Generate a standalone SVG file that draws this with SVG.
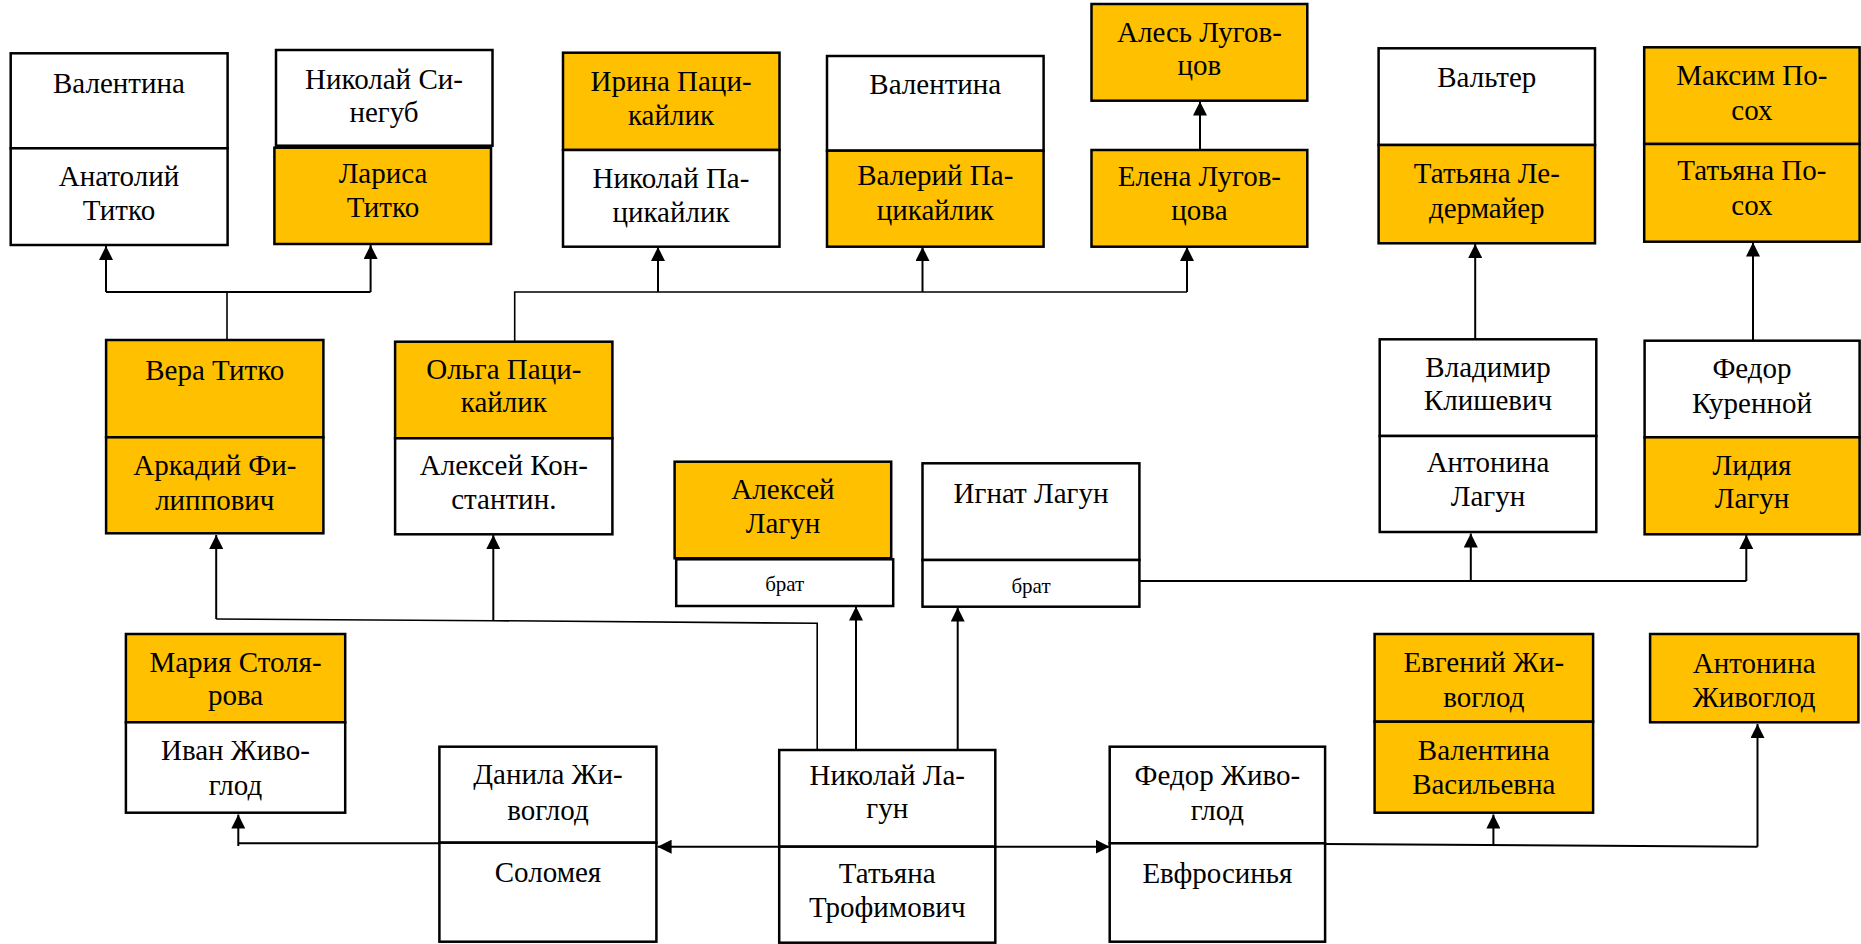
<svg xmlns="http://www.w3.org/2000/svg" width="1861" height="944" viewBox="0 0 1861 944">
<style>
.w{fill:#ffffff;stroke:#000;stroke-width:2.5}
.o{fill:#FFC000;stroke:#000;stroke-width:2.5}
.c{fill:none;stroke:#000;stroke-width:2}
.t{fill:none;stroke:#000;stroke-width:1.6}
</style>
<defs>
<marker id="ah" markerWidth="14" markerHeight="14" refX="14" refY="7" orient="auto" markerUnits="userSpaceOnUse"><path d="M0,0 L14,7 L0,14 z" fill="#000"/></marker>
</defs>
<rect width="1861" height="944" fill="#fff"/>
<g id="connectors">
<polyline class="t" points="227,340 227,292"/>
<polyline class="c" points="106,292 370.6,292"/>
<line class="c" x1="106" y1="292" x2="106" y2="246" marker-end="url(#ah)"/>
<line class="c" x1="370.6" y1="292" x2="370.6" y2="245" marker-end="url(#ah)"/>
<polyline class="t" points="514.7,341.7 514.7,292 1187,292"/>
<line class="c" x1="658" y1="292" x2="658" y2="247" marker-end="url(#ah)"/>
<line class="c" x1="922.5" y1="292" x2="922.5" y2="247" marker-end="url(#ah)"/>
<line class="c" x1="1187" y1="292" x2="1187" y2="247" marker-end="url(#ah)"/>
<line class="c" x1="1200" y1="150" x2="1200" y2="101.5" marker-end="url(#ah)"/>
<line class="c" x1="1475.2" y1="339.3" x2="1475.2" y2="244" marker-end="url(#ah)"/>
<line class="c" x1="1753" y1="340.7" x2="1753" y2="242.5" marker-end="url(#ah)"/>
<polyline class="c" points="1139.4,581 1746.3,581"/>
<line class="c" x1="1470.8" y1="581" x2="1470.8" y2="533.5" marker-end="url(#ah)"/>
<line class="c" x1="1746.3" y1="581" x2="1746.3" y2="535" marker-end="url(#ah)"/>
<polyline class="t" points="817.2,750 817.2,623.3 493.3,620.7 216.2,619"/>
<line class="c" x1="216.2" y1="619" x2="216.2" y2="535" marker-end="url(#ah)"/>
<line class="c" x1="493.3" y1="620.7" x2="493.3" y2="535" marker-end="url(#ah)"/>
<line class="c" x1="856" y1="750" x2="856" y2="606.5" marker-end="url(#ah)"/>
<line class="c" x1="957.7" y1="750" x2="957.7" y2="607.5" marker-end="url(#ah)"/>
<line class="c" x1="779.2" y1="846.7" x2="657.6" y2="846.7" marker-end="url(#ah)"/>
<polyline class="c" points="439.4,843.3 238.3,843.3"/>
<line class="c" x1="238.3" y1="846" x2="238.3" y2="814.5" marker-end="url(#ah)"/>
<line class="c" x1="995.3" y1="846.7" x2="1109.7" y2="846.7" marker-end="url(#ah)"/>
<polyline class="c" points="1325.1,844 1757.5,846.7"/>
<line class="c" x1="1493.4" y1="846" x2="1493.4" y2="814.5" marker-end="url(#ah)"/>
<line class="c" x1="1757.5" y1="846.7" x2="1757.5" y2="724" marker-end="url(#ah)"/>
</g>
<g id="n1">
<rect class="w" x="10.7" y="53.3" width="216.9" height="95"/>
<rect class="w" x="10.7" y="148.3" width="216.9" height="96.7"/>
<text x="119" y="93" font-family="Liberation Serif" font-size="29" text-anchor="middle">Валентина</text>
<text x="119" y="186" font-family="Liberation Serif" font-size="29" text-anchor="middle">Анатолий</text>
<text x="119" y="220" font-family="Liberation Serif" font-size="29" text-anchor="middle">Титко</text>
</g>
<g id="n2">
<rect class="w" x="276" y="50" width="216.5" height="95.7"/>
<rect class="o" x="274.4" y="147.7" width="216.6" height="96.3"/>
<text x="384" y="88.5" font-family="Liberation Serif" font-size="29" text-anchor="middle">Николай Си-</text>
<text x="384" y="122" font-family="Liberation Serif" font-size="29" text-anchor="middle">негуб</text>
<text x="383" y="183" font-family="Liberation Serif" font-size="29" text-anchor="middle">Лариса</text>
<text x="383" y="217" font-family="Liberation Serif" font-size="29" text-anchor="middle">Титко</text>
</g>
<g id="n3">
<rect class="o" x="563" y="52.7" width="216.5" height="97.3"/>
<rect class="w" x="563" y="150" width="216.5" height="96.7"/>
<text x="671" y="91" font-family="Liberation Serif" font-size="29" text-anchor="middle">Ирина Паци-</text>
<text x="671" y="125" font-family="Liberation Serif" font-size="29" text-anchor="middle">кайлик</text>
<text x="671" y="188" font-family="Liberation Serif" font-size="29" text-anchor="middle">Николай Па-</text>
<text x="671" y="222" font-family="Liberation Serif" font-size="29" text-anchor="middle">цикайлик</text>
</g>
<g id="n4">
<rect class="w" x="827" y="56" width="216.6" height="94.7"/>
<rect class="o" x="827" y="150.7" width="216.6" height="96"/>
<text x="935.3" y="94" font-family="Liberation Serif" font-size="29" text-anchor="middle">Валентина</text>
<text x="935.3" y="185" font-family="Liberation Serif" font-size="29" text-anchor="middle">Валерий Па-</text>
<text x="935.3" y="220" font-family="Liberation Serif" font-size="29" text-anchor="middle">цикайлик</text>
</g>
<g id="n5">
<rect class="o" x="1091.5" y="4" width="215.8" height="96.7"/>
<text x="1199.4" y="41.5" font-family="Liberation Serif" font-size="29" text-anchor="middle">Алесь Лугов-</text>
<text x="1199.4" y="75" font-family="Liberation Serif" font-size="29" text-anchor="middle">цов</text>
</g>
<g id="n6">
<rect class="o" x="1091.5" y="150" width="215.8" height="96.7"/>
<text x="1199.4" y="186" font-family="Liberation Serif" font-size="29" text-anchor="middle">Елена Лугов-</text>
<text x="1199.4" y="220" font-family="Liberation Serif" font-size="29" text-anchor="middle">цова</text>
</g>
<g id="n7">
<rect class="w" x="1378.6" y="48.3" width="216.4" height="96.7"/>
<rect class="o" x="1378.6" y="145" width="216.4" height="98.3"/>
<text x="1486.8" y="87" font-family="Liberation Serif" font-size="29" text-anchor="middle">Вальтер</text>
<text x="1486.8" y="183" font-family="Liberation Serif" font-size="29" text-anchor="middle">Татьяна Ле-</text>
<text x="1486.8" y="218" font-family="Liberation Serif" font-size="29" text-anchor="middle">дермайер</text>
</g>
<g id="n8">
<rect class="o" x="1644.2" y="47.3" width="215.4" height="96.7"/>
<rect class="o" x="1644.2" y="144" width="215.4" height="97.7"/>
<text x="1751.9" y="85" font-family="Liberation Serif" font-size="29" text-anchor="middle">Максим По-</text>
<text x="1751.9" y="120" font-family="Liberation Serif" font-size="29" text-anchor="middle">сох</text>
<text x="1751.9" y="180" font-family="Liberation Serif" font-size="29" text-anchor="middle">Татьяна По-</text>
<text x="1751.9" y="215" font-family="Liberation Serif" font-size="29" text-anchor="middle">сох</text>
</g>
<g id="n9">
<rect class="o" x="106.1" y="340" width="217.3" height="97.3"/>
<rect class="o" x="106.1" y="437.3" width="217.3" height="96"/>
<text x="214.8" y="380" font-family="Liberation Serif" font-size="29" text-anchor="middle">Вера Титко</text>
<text x="214.8" y="475" font-family="Liberation Serif" font-size="29" text-anchor="middle">Аркадий Фи-</text>
<text x="214.8" y="510" font-family="Liberation Serif" font-size="29" text-anchor="middle">липпович</text>
</g>
<g id="n10">
<rect class="o" x="395.1" y="341.7" width="217.3" height="96.6"/>
<rect class="w" x="395.1" y="438.3" width="217.3" height="96"/>
<text x="503.8" y="379" font-family="Liberation Serif" font-size="29" text-anchor="middle">Ольга Паци-</text>
<text x="503.8" y="412" font-family="Liberation Serif" font-size="29" text-anchor="middle">кайлик</text>
<text x="503.8" y="475" font-family="Liberation Serif" font-size="29" text-anchor="middle">Алексей Кон-</text>
<text x="503.8" y="509" font-family="Liberation Serif" font-size="29" text-anchor="middle">стантин.</text>
</g>
<g id="n11">
<rect class="o" x="674.6" y="461.7" width="216.6" height="96.6"/>
<rect class="w" x="676.2" y="559.3" width="217" height="46.7"/>
<text x="783" y="499" font-family="Liberation Serif" font-size="29" text-anchor="middle">Алексей</text>
<text x="783" y="533" font-family="Liberation Serif" font-size="29" text-anchor="middle">Лагун</text>
<text x="784.7" y="591" font-family="Liberation Serif" font-size="21" text-anchor="middle">брат</text>
</g>
<g id="n12">
<rect class="w" x="922.5" y="463.3" width="216.9" height="96.7"/>
<rect class="w" x="922.5" y="560" width="216.9" height="46.7"/>
<text x="1031" y="503" font-family="Liberation Serif" font-size="29" text-anchor="middle">Игнат Лагун</text>
<text x="1031" y="593" font-family="Liberation Serif" font-size="21" text-anchor="middle">брат</text>
</g>
<g id="n13">
<rect class="w" x="1379.7" y="339.3" width="216.6" height="96.7"/>
<rect class="w" x="1379.7" y="436" width="216.6" height="96"/>
<text x="1488" y="377" font-family="Liberation Serif" font-size="29" text-anchor="middle">Владимир</text>
<text x="1488" y="410" font-family="Liberation Serif" font-size="29" text-anchor="middle">Клишевич</text>
<text x="1488" y="471.5" font-family="Liberation Serif" font-size="29" text-anchor="middle">Антонина</text>
<text x="1488" y="506" font-family="Liberation Serif" font-size="29" text-anchor="middle">Лагун</text>
</g>
<g id="n14">
<rect class="w" x="1644.6" y="340.7" width="215" height="96.6"/>
<rect class="o" x="1644.6" y="437.3" width="215" height="97"/>
<text x="1752" y="378" font-family="Liberation Serif" font-size="29" text-anchor="middle">Федор</text>
<text x="1752" y="413" font-family="Liberation Serif" font-size="29" text-anchor="middle">Куренной</text>
<text x="1752" y="475" font-family="Liberation Serif" font-size="29" text-anchor="middle">Лидия</text>
<text x="1752" y="508" font-family="Liberation Serif" font-size="29" text-anchor="middle">Лагун</text>
</g>
<g id="n15">
<rect class="o" x="125.9" y="634" width="219.3" height="88.3"/>
<rect class="w" x="125.9" y="722.3" width="219.3" height="90.4"/>
<text x="235.5" y="671.5" font-family="Liberation Serif" font-size="29" text-anchor="middle">Мария Столя-</text>
<text x="235.5" y="705" font-family="Liberation Serif" font-size="29" text-anchor="middle">рова</text>
<text x="235.5" y="760" font-family="Liberation Serif" font-size="29" text-anchor="middle">Иван Живо-</text>
<text x="235.5" y="795" font-family="Liberation Serif" font-size="29" text-anchor="middle">глод</text>
</g>
<g id="n16">
<rect class="w" x="439.4" y="746.7" width="217" height="96"/>
<rect class="w" x="439.4" y="842.7" width="217" height="99"/>
<text x="548" y="784" font-family="Liberation Serif" font-size="29" text-anchor="middle">Данила Жи-</text>
<text x="548" y="820" font-family="Liberation Serif" font-size="29" text-anchor="middle">воглод</text>
<text x="548" y="881.5" font-family="Liberation Serif" font-size="29" text-anchor="middle">Соломея</text>
</g>
<g id="n17">
<rect class="w" x="779.2" y="750" width="216.1" height="96.7"/>
<rect class="w" x="779.2" y="846.7" width="216.1" height="96"/>
<text x="887.2" y="785" font-family="Liberation Serif" font-size="29" text-anchor="middle">Николай Ла-</text>
<text x="887.2" y="818" font-family="Liberation Serif" font-size="29" text-anchor="middle">гун</text>
<text x="887.2" y="883" font-family="Liberation Serif" font-size="29" text-anchor="middle">Татьяна</text>
<text x="887.2" y="917" font-family="Liberation Serif" font-size="29" text-anchor="middle">Трофимович</text>
</g>
<g id="n18">
<rect class="w" x="1109.7" y="746.7" width="215.4" height="96.6"/>
<rect class="w" x="1109.7" y="843.3" width="215.4" height="98.4"/>
<text x="1217.4" y="785" font-family="Liberation Serif" font-size="29" text-anchor="middle">Федор Живо-</text>
<text x="1217.4" y="820" font-family="Liberation Serif" font-size="29" text-anchor="middle">глод</text>
<text x="1217.4" y="883" font-family="Liberation Serif" font-size="29" text-anchor="middle">Евфросинья</text>
</g>
<g id="n19">
<rect class="o" x="1374.6" y="634" width="218.5" height="87.7"/>
<rect class="o" x="1374.6" y="721.7" width="218.5" height="91"/>
<text x="1483.8" y="671.5" font-family="Liberation Serif" font-size="29" text-anchor="middle">Евгений Жи-</text>
<text x="1483.8" y="706.5" font-family="Liberation Serif" font-size="29" text-anchor="middle">воглод</text>
<text x="1483.8" y="760" font-family="Liberation Serif" font-size="29" text-anchor="middle">Валентина</text>
<text x="1483.8" y="793.5" font-family="Liberation Serif" font-size="29" text-anchor="middle">Васильевна</text>
</g>
<g id="n20">
<rect class="o" x="1650.1" y="634" width="208.3" height="88.3"/>
<text x="1754.2" y="673" font-family="Liberation Serif" font-size="29" text-anchor="middle">Антонина</text>
<text x="1754.2" y="706.5" font-family="Liberation Serif" font-size="29" text-anchor="middle">Живоглод</text>
</g>
</svg>
